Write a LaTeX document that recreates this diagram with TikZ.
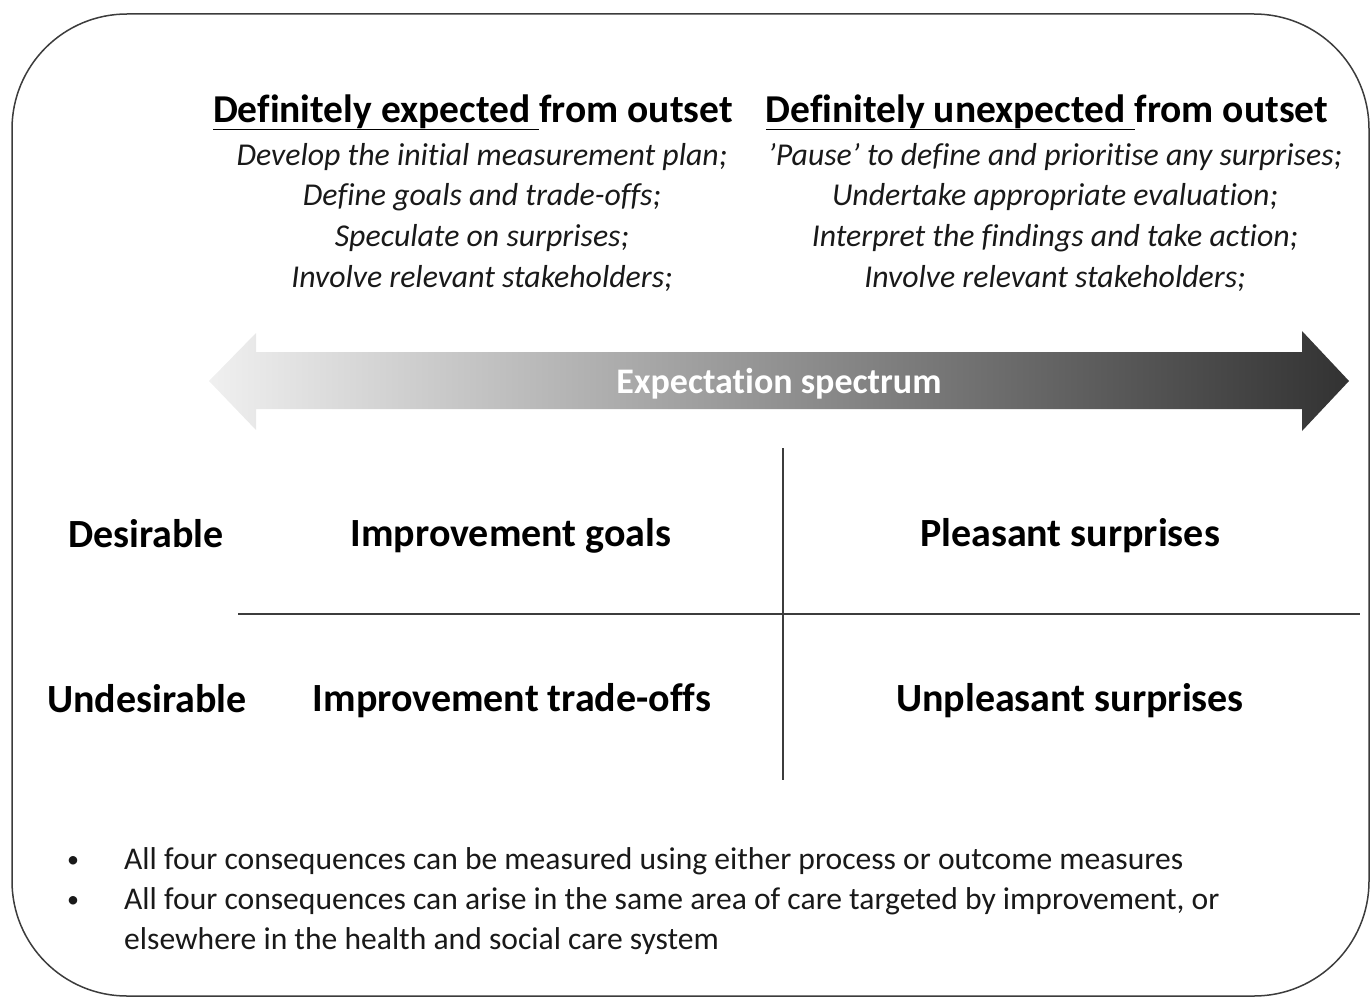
\documentclass[tikz,border=0pt]{standalone}
\usepackage{fontspec}
\setmainfont{Carlito}[Ligatures=NoCommon]
\usepackage{xcolor}
\usepackage{tikz}
\usetikzlibrary{positioning}
\definecolor{framegray}{RGB}{60,60,60}
\definecolor{textgray}{RGB}{25,25,25}
\definecolor{arrowlight}{RGB}{240,240,240}
\definecolor{arrowmid}{RGB}{170,170,170}
\definecolor{arrowdark}{RGB}{50,50,50}

\begin{document}
\begin{tikzpicture}[x=1pt, y=-1pt, node distance=40.7pt]
    \tikzstyle{heading} = [font=\fontsize{39.5}{44}\selectfont\bfseries, text=black, inner sep=0pt, anchor=base]
    \tikzstyle{action} = [font=\fontsize{31.8}{36}\selectfont\itshape, text=textgray, inner sep=0pt, anchor=base]
    \tikzstyle{quadrant} = [font=\fontsize{40}{44}\selectfont\bfseries, text=black, inner sep=0pt, anchor=base]
    \tikzstyle{note} = [font=\fontsize{31.6}{36}\selectfont, text=textgray, inner sep=0pt, anchor=base west]
    \tikzstyle{bulletmark} = [font=\fontsize{24}{28}\selectfont, text=textgray, inner sep=0pt, anchor=base]
    \tikzstyle{divider} = [framegray, line width=1.4pt]

    \useasboundingbox (0,0) rectangle (1370,998);
    \draw [framegray, line width=1.5pt, rounded corners=115pt] (12,14) rectangle (1369,996);

    % Column headings
    \node [heading] (expected) at (473,122) {\underline{Definitely expected\ }from outset};
    \node [heading] (unexpected) at (1047,122) {\underline{Definitely unexpected\ }from outset};

    % Actions when expected
    \node [action] (plan) at (482,165) {Develop the initial measurement plan;};
    \node [action, below of=plan] (goals) {Define goals and trade-offs;};
    \node [action, below of=goals] (speculate) {Speculate on surprises;};
    \node [action, below of=speculate] (involve_exp) {Involve relevant stakeholders;};

    % Actions when unexpected
    \node [action] (pause) at (1055,165) {’Pause’ to define and prioritise any surprises;};
    \node [action, below of=pause] (evaluate) {Undertake appropriate evaluation;};
    \node [action, below of=evaluate] (interpret) {Interpret the findings and take action;};
    \node [action, below of=interpret] (involve_unexp) {Involve relevant stakeholders;};

    % Expectation spectrum
    \shade [left color=arrowlight, middle color=arrowmid, right color=arrowdark]
        (209,381) -- (256,333) -- (256,352) -- (1302,352) -- (1302,331) -- (1349,381)
        -- (1302,431) -- (1302,409) -- (256,409) -- (256,430) -- cycle;
    \node [font=\fontsize{36}{40}\selectfont\bfseries, text=white, inner sep=0pt, anchor=base] (spectrum) at (779,393) {Expectation spectrum};

    % Quadrants
    \draw [divider] (783,448) -- (783,780);
    \draw [divider] (238,614) -- (1360,614);
    \node [quadrant] (desirable) at (146,547) {Desirable};
    \node [quadrant] (undesirable) at (147,712) {Undesirable};
    \node [quadrant] (imp_goals) at (511,546) {Improvement goals};
    \node [quadrant] (pleasant) at (1070,546) {Pleasant surprises};
    \node [quadrant] (imp_tradeoffs) at (512,711) {Improvement trade-offs};
    \node [quadrant] (unpleasant) at (1070,711) {Unpleasant surprises};

    % Notes
    \node [bulletmark] (bullet_a) at (73,867) {•};
    \node [note] (note_a) at (124,869) {All four consequences can be measured using either process or outcome measures};
    \node [bulletmark] (bullet_b) at (73,907) {•};
    \node [note] (note_b) at (124,909) {All four consequences can arise in the same area of care targeted by improvement, or};
    \node [note] (note_c) at (124,949) {elsewhere in the health and social care system};
\end{tikzpicture}
\end{document}
